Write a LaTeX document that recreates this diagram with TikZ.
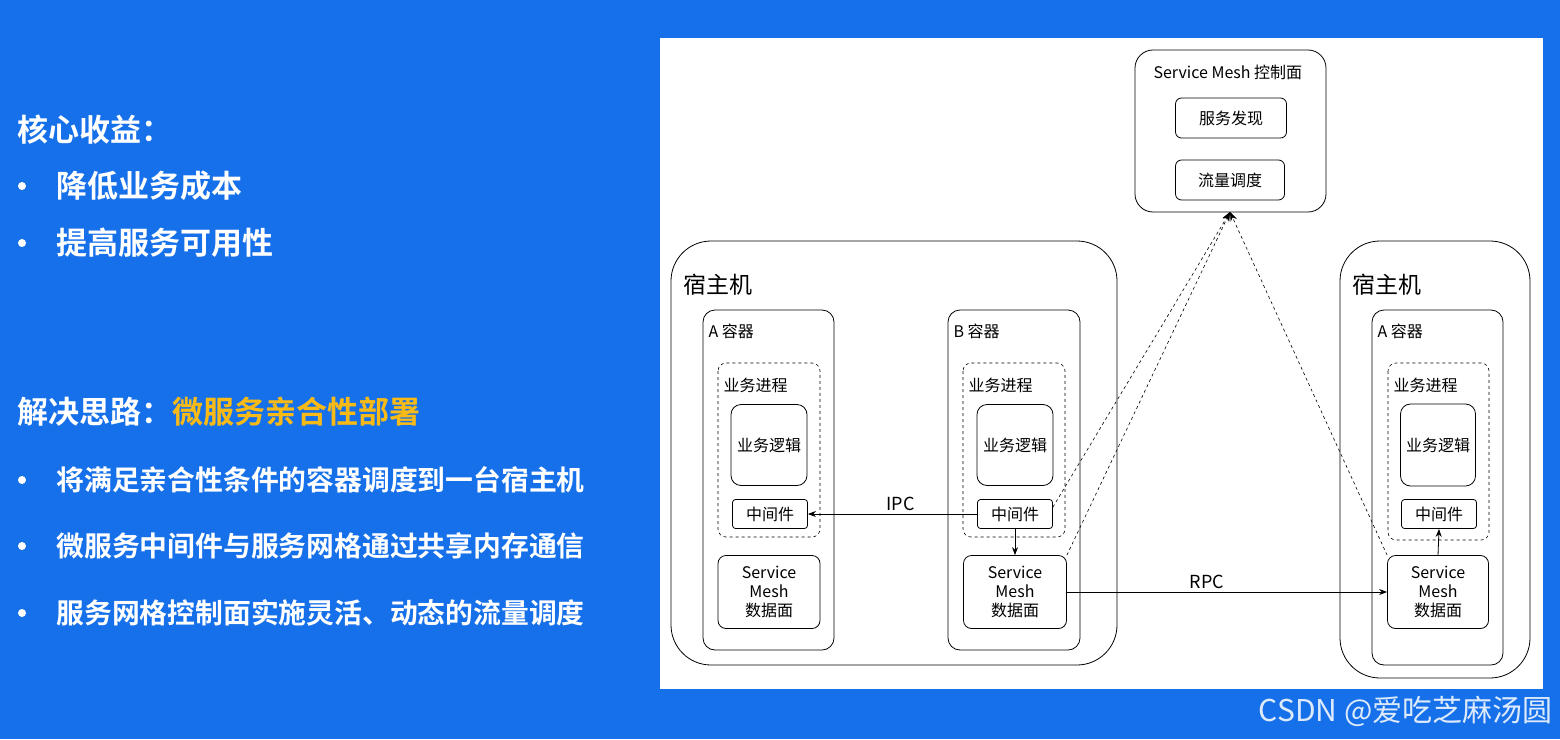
\documentclass[tikz,border=0pt]{standalone}
\usepackage{fontspec}
\setmainfont{Noto Sans CJK SC}[BoldFont={Noto Sans CJK SC Bold}]
\usetikzlibrary{arrows.meta}
\definecolor{bg}{HTML}{1670EA}
\definecolor{gold}{HTML}{F7BA17}
\tikzset{
 bx/.style={draw,thick,rounded corners=6pt,align=center,font=\fontsize{16}{19}\selectfont},
 cont/.style={draw,thick,rounded corners=12pt},
 host/.style={draw,thick,rounded corners=40pt},
 dsh/.style={draw,semithick,dashed,rounded corners=8pt},
 lbl/.style={anchor=west,font=\fontsize{16}{19}\selectfont},
 big/.style={anchor=west,text=white,font=\bfseries\fontsize{31}{35}\selectfont},
 mid/.style={anchor=west,text=white,font=\bfseries\fontsize{27.8}{31}\selectfont},
 ar/.style={-{Stealth[length=8pt]},thick},
 dar/.style={-{Stealth[length=9pt]},semithick,dashed},
}
\begin{document}
\begin{tikzpicture}[x=1pt,y=-1pt]
\fill[bg] (0,0) rectangle (1560,739);
\useasboundingbox (0,0) rectangle (1560,739);
\fill[white] (660,38) rectangle (1543,689);
% left text
\node[big] (t1) at (14,130) {核心收益：};
\node[big] (t2) at (53,186) {降低业务成本};
\node[big] (t3) at (53,243) {提高服务可用性};
\node[big] (t4) at (14,412) {解决思路：\textcolor{gold}{微服务亲合性部署}};
\node[mid] (t5) at (53,480) {将满足亲合性条件的容器调度到一台宿主机};
\node[mid] (t6) at (53,546) {微服务中间件与服务网格通过共享内存通信};
\node[mid] (t7) at (53,613) {服务网格控制面实施灵活、动态的流量调度};
\foreach \y in {186,243,480,546,613} \fill[white] (22,\y) circle (4);
% control plane
\draw[thick,rounded corners=18pt] (1135,50) rectangle (1326,212);
\node[lbl] (ct) at (1150,72) {Service Mesh 控制面};
\node[bx,minimum width=111pt,minimum height=40pt] (sd) at (1231,118) {服务发现};
\node[bx,minimum width=109pt,minimum height=40pt] (ls) at (1230,180) {流量调度};
\coordinate (cp) at (1230,212);
% left host
\draw[host] (671,241) rectangle (1117,665);
\node[anchor=west,font=\fontsize{23}{27}\selectfont] (h1) at (680,285) {宿主机};
\draw[cont] (703,310) rectangle (834,650);
\node[lbl] (ca) at (705,331) {A 容器};
\draw[dsh] (718,363) rectangle (820,537);
\node[lbl] (pa) at (720,385) {业务进程};
\node[bx,rounded corners=10pt,minimum width=76pt,minimum height=81pt] (la) at (769,445) {业务逻辑};
\node[bx,rounded corners=3pt,minimum width=75pt,minimum height=29pt] (ma) at (770,514) {中间件};
\node[bx,rounded corners=8pt,minimum width=102pt,minimum height=73pt] (sa) at (769,592) {Service\\Mesh\\数据面};
\draw[cont] (948,310) rectangle (1080,650);
\node[lbl] (cb) at (950,331) {B 容器};
\draw[dsh] (963,363) rectangle (1065,537);
\node[lbl] (pb) at (965,385) {业务进程};
\node[bx,rounded corners=10pt,minimum width=76pt,minimum height=81pt] (lb) at (1015,445) {业务逻辑};
\node[bx,rounded corners=3pt,minimum width=75pt,minimum height=29pt] (mb) at (1015,514) {中间件};
\node[bx,rounded corners=8pt,minimum width=103pt,minimum height=73pt] (sb) at (1015,592) {Service\\Mesh\\数据面};
% right host
\draw[host] (1340,241) rectangle (1530,678);
\node[anchor=west,font=\fontsize{23}{27}\selectfont] (h2) at (1349,285) {宿主机};
\draw[cont] (1372,310) rectangle (1503,665);
\node[lbl] (cc) at (1374,331) {A 容器};
\draw[dsh] (1388,363) rectangle (1489,540);
\node[lbl] (pc) at (1390,385) {业务进程};
\node[bx,rounded corners=10pt,minimum width=75pt,minimum height=82pt] (lc) at (1438,445) {业务逻辑};
\node[bx,rounded corners=3pt,minimum width=75pt,minimum height=29pt] (mc) at (1439,514) {中间件};
\node[bx,rounded corners=8pt,minimum width=101pt,minimum height=73pt] (sc) at (1438,592) {Service\\Mesh\\数据面};
% arrows
\draw[ar] (mb.west) -- node[above,font=\fontsize{18}{21}\selectfont,xshift=8pt] {IPC} (ma.east);
\draw[ar] (mb.south) -- (sb.north);
\draw[ar] (sb.east) -- node[above,font=\fontsize{18}{21}\selectfont,xshift=-20pt] {RPC} (sc.west);
\draw[ar] (sc.north) -- (mc.south);
\draw[dar] (mb.north east) ++(0,8) -- (cp);
\draw[dar] (sb.north east) -- (cp);
\draw[dar] (sc.north west) -- (cp);
\node[anchor=east,text=white!85!bg,font=\fontsize{30}{34}\selectfont] (csdn) at (1556,711) {CSDN @爱吃芝麻汤圆};
\end{tikzpicture}
\end{document}
